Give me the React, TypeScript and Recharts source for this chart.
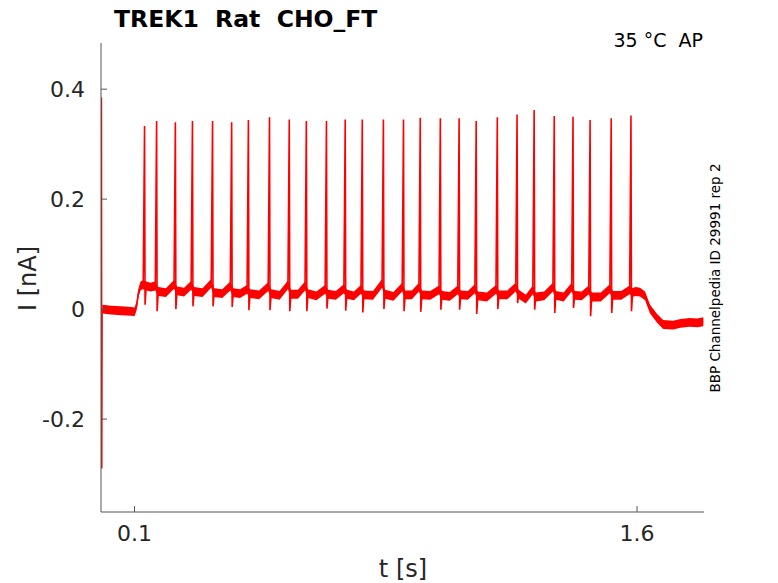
import React from "react";
import { ComposedChart, Line, Area, XAxis, YAxis } from "recharts";

// spike train (time in s, current in nA)
const spikeT = [
  0.13, 0.166, 0.222, 0.273, 0.333, 0.39, 0.44, 0.503, 0.562, 0.613, 0.673,
  0.729, 0.78, 0.843, 0.903, 0.953, 1.013, 1.069, 1.12, 1.183, 1.242, 1.293,
  1.353, 1.409, 1.46, 1.523, 1.582,
];
const spikePeak = [
  0.333, 0.342, 0.34, 0.342, 0.342, 0.34, 0.344, 0.349, 0.345, 0.342, 0.342,
  0.345, 0.345, 0.345, 0.345, 0.348, 0.347, 0.347, 0.342, 0.349, 0.354, 0.362,
  0.351, 0.35, 0.344, 0.347, 0.352,
];
const spikeDip = [
  0.008, -0.004, 0.0, 0.005, 0.005, 0.004, -0.002, -0.002, -0.004, -0.004,
  0.001, -0.003, -0.006, 0.0, -0.004, -0.005, -0.001, -0.001, -0.009, 0.0,
  0.011, -0.001, -0.007, 0.002, -0.013, -0.007, -0.004,
];
const spikePre = [
  0.044, 0.042, 0.045, 0.043, 0.047, 0.042, 0.036, 0.041, 0.044, 0.042, 0.036,
  0.037, 0.036, 0.047, 0.04, 0.04, 0.035, 0.035, 0.037, 0.036, 0.04, 0.035,
  0.04, 0.04, 0.035, 0.037, 0.035,
];
const spikePost = [
  0.042, 0.032, 0.033, 0.032, 0.03, 0.03, 0.028, 0.028, 0.027, 0.028, 0.027,
  0.027, 0.026, 0.027, 0.026, 0.026, 0.025, 0.026, 0.024, 0.026, 0.027, 0.022,
  0.025, 0.025, 0.022, 0.025, 0.03,
];

// slow baseline between spikes
const baseT = [
  0.004, 0.03, 0.06, 0.09, 0.1, 0.106, 0.112, 0.118, 0.124, 0.148, 0.194,
  0.248, 0.303, 0.362, 0.415, 0.472, 0.533, 0.588, 0.643, 0.701, 0.755, 0.812,
  0.873, 0.928, 0.983, 1.041, 1.095, 1.152, 1.213, 1.268, 1.323, 1.381, 1.435,
  1.492, 1.553, 1.595, 1.609, 1.624, 1.639, 1.66, 1.678, 1.708, 1.73, 1.758,
  1.78, 1.798,
];
const baseI = [
  0.0, -0.002, -0.003, -0.004, -0.005, 0.005, 0.03, 0.042, 0.044, 0.04, 0.03,
  0.031, 0.03, 0.028, 0.028, 0.026, 0.025, 0.027, 0.024, 0.025, 0.024, 0.025,
  0.023, 0.026, 0.025, 0.023, 0.025, 0.022, 0.026, 0.018, 0.024, 0.022, 0.024,
  0.022, 0.025, 0.032, 0.031, 0.024, 0.0, -0.017, -0.028, -0.029, -0.026,
  -0.024, -0.025, -0.023,
];

// capacitive artifact at the start of the sweep
const artT = [0.0012, 0.0022, 0.0032];
const artI = [0.385, -0.29, 0.0];

const xTicks = [0.1, 1.6];
const yTicks = [-0.2, 0, 0.2, 0.4];

const noise = 0.008;
const font = "DejaVu Sans";
const axisColor = "#555";
const textColor = "#262626";

const base = baseT.map((t, k) => ({ t, i: baseI[k] }));
const shoulders = spikeT.flatMap((t, k) => [
  { t: t - 0.004, i: spikePre[k] },
  { t: t + 0.005, i: spikePost[k] },
]);
const tips = spikeT.flatMap((t, k) => [
  { t, i: spikePeak[k] },
  { t: t + 0.0015, i: spikeDip[k] },
]);
const art = artT.map((t, k) => ({ t, i: artI[k] }));

const trace = [...art, ...base, ...shoulders, ...tips].sort((a, b) => a.t - b.t);
const band = [...base, ...shoulders]
  .sort((a, b) => a.t - b.t)
  .map((p) => ({ t: p.t, band: [p.i - noise, p.i + noise] }));

const fmt = (v: number) => (v === 0 ? "0" : String(v));

function YTick({ x, y, payload }: any) {
  const ax = x + 16;
  return (
    <g>
      <line x1={ax} x2={ax + 6} y1={y} y2={y} stroke={axisColor} />
      <text x={x} y={y} dy="0.36em" textAnchor="end" fontSize={22} fontFamily={font} fill={textColor}>
        {fmt(payload.value)}
      </text>
    </g>
  );
}

function XTick({ x, y, payload }: any) {
  const ay = y - 13;
  return (
    <g>
      <line x1={x} x2={x} y1={ay} y2={ay - 6} stroke={axisColor} />
      <text x={x} y={y} dy="0.71em" textAnchor="middle" fontSize={22} fontFamily={font} fill={textColor}>
        {fmt(payload.value)}
      </text>
    </g>
  );
}

export default function App() {
  return (
    <div style={{ position: "relative", width: 770, height: 575 }}>
      <ComposedChart width={770} height={575} margin={{ top: 35, right: 74, bottom: 31, left: 33 }}>
        <XAxis
          dataKey="t"
          type="number"
          domain={[0, 1.8]}
          ticks={xTicks}
          allowDataOverflow
          height={40}
          tickSize={0}
          tickMargin={13}
          tick={<XTick />}
          axisLine={{ stroke: axisColor }}
        />
        <YAxis
          type="number"
          domain={[-0.369, 0.484]}
          ticks={yTicks}
          allowDataOverflow
          width={60}
          tickSize={0}
          tickMargin={16}
          tick={<YTick />}
          axisLine={{ stroke: axisColor }}
        />
        <Area
          data={band}
          dataKey="band"
          type="linear"
          stroke="none"
          fill="#ff0000"
          fillOpacity={1}
          isAnimationActive={false}
        />
        <Line
          data={trace}
          dataKey="i"
          type="linear"
          stroke="#ff0000"
          strokeWidth={1.6}
          dot={false}
          isAnimationActive={false}
        />
      </ComposedChart>
      <svg
        width={770}
        height={575}
        style={{ position: "absolute", left: 0, top: 0, pointerEvents: "none", overflow: "visible" }}
        fontFamily={font}
      >
        <text x={106} y={19} fontSize={23.5} fontWeight="bold" fill="#000" style={{ whiteSpace: "pre" }}>
          {"TREK1  Rat  CHO_FT"}
        </text>
        <text x={695} y={39} fontSize={19} textAnchor="end" fill="#000" style={{ whiteSpace: "pre" }}>
          {"35 °C  AP"}
        </text>
        <text x={28} y={270.5} fontSize={24} textAnchor="middle" fill={textColor} transform="rotate(-90 28 270.5)">
          I [nA]
        </text>
        <text x={395} y={569} fontSize={24} textAnchor="middle" fill={textColor}>
          t [s]
        </text>
        <text x={712} y={270} fontSize={13.5} textAnchor="middle" fill="#000" transform="rotate(-90 712 270)">
          BBP Channelpedia ID 29991 rep 2
        </text>
      </svg>
    </div>
  );
}
